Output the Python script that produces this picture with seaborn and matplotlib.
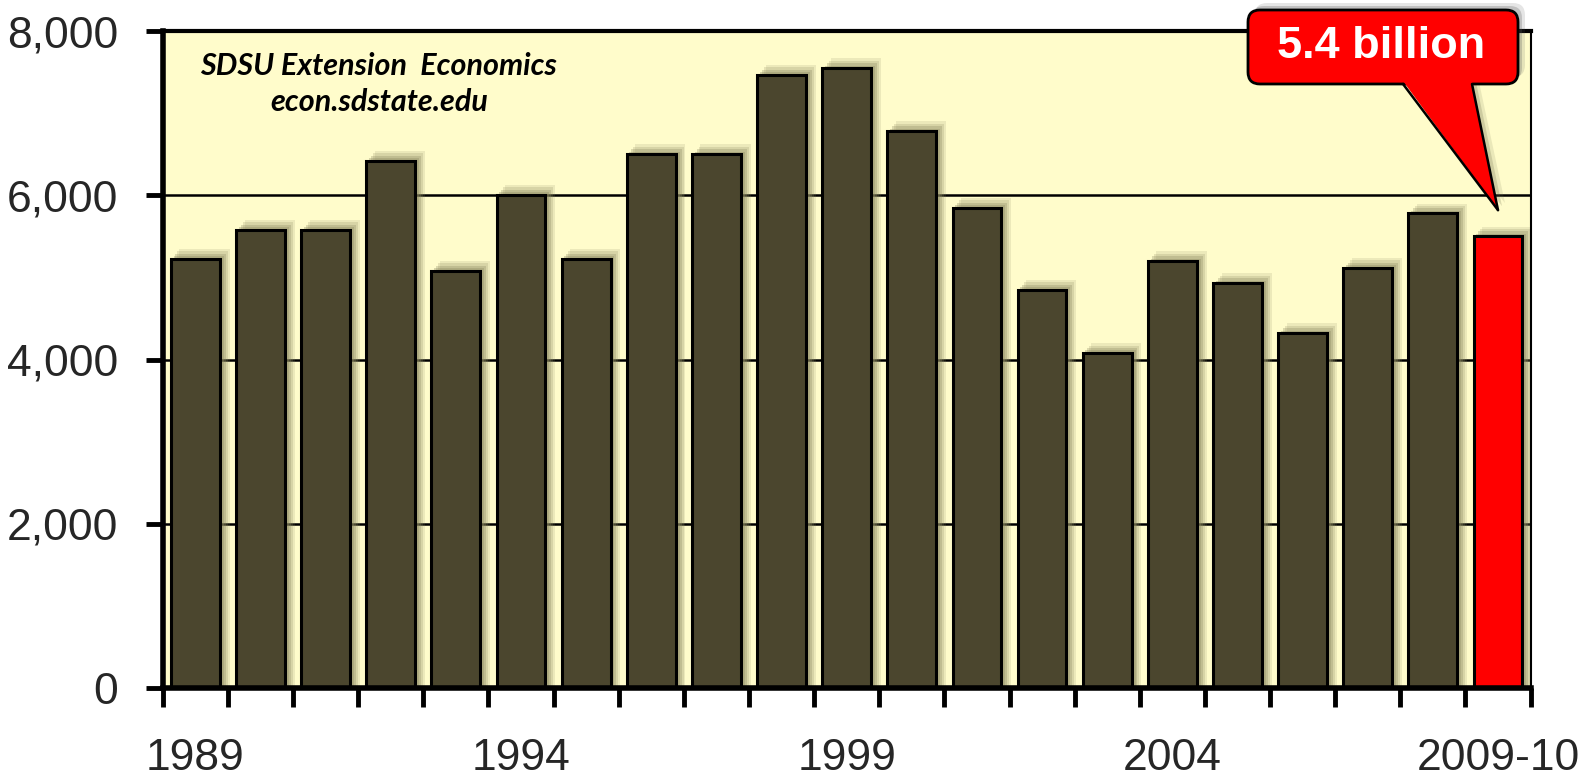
import numpy as np
import pandas as pd
import matplotlib
matplotlib.use("Agg")
import matplotlib.pyplot as plt
from matplotlib.patches import FancyBboxPatch, Polygon
from matplotlib.lines import Line2D
from matplotlib.transforms import IdentityTransform
import seaborn as sns

# data
years = ["1989", "1990", "1991", "1992", "1993", "1994", "1995", "1996", "1997", "1998",
         "1999", "2000", "2001", "2002", "2003", "2004", "2005", "2006", "2007", "2008",
         "2009-10"]
values = [5230, 5580, 5580, 6420, 5080, 6010, 5230, 6500, 6500, 7470,
          7550, 6780, 5850, 4850, 4080, 5200, 4930, 4320, 5120, 5780, 5500]
shown_labels = ["1989", "1994", "1999", "2004", "2009-10"]
callout_text = "5.4 billion"
credit_lines = ["SDSU Extension  Economics", "econ.sdstate.edu"]

bar_color = "#4b462e"
hi_color = "#ff0000"
bg_color = "#fffccb"
shadow_color = "#8e8a62"

sns.set_theme(style="white")
plt.rcParams["font.family"] = ["Liberation Sans", "DejaVu Sans"]

df = pd.DataFrame({"year": years, "value": values})
colors = [bar_color] * (len(years) - 1) + [hi_color]

W, H = 1596, 779
fig = plt.figure(figsize=(W / 100, H / 100), dpi=100)
ax = fig.add_axes([0.102, 0.117, 0.857, 0.843])
ax.set_facecolor(bg_color)

# soft shadow behind the bars
pos = np.arange(len(years))
for dx, dy, a in [(0.14, 120, 0.16), (0.11, 90, 0.22), (0.08, 60, 0.3), (0.05, 30, 0.35)]:
    ax.bar(pos + dx, np.array(values) + dy, width=0.77, color=shadow_color,
           alpha=a, linewidth=0, zorder=1)

sns.barplot(data=df, x="year", y="value", hue="year", palette=colors, legend=False,
            width=0.75, edgecolor="black", linewidth=2.2, saturation=1, ax=ax, zorder=2)

ax.set_xlim(-0.5, len(years) - 0.5)
ax.set_ylim(0, 8000)
ax.set_xlabel("")
ax.set_ylabel("")

# y axis
yt = [0, 2000, 4000, 6000, 8000]
ax.set_yticks(yt)
ax.set_yticklabels([f"{v:,}" for v in yt], fontsize=32)
for gy in yt[1:-1]:
    ax.axhline(gy, color="black", lw=1.8, zorder=0.5)

# x axis: ticks at bar boundaries, labels every 5 years
ax.set_xticks(np.arange(-0.5, len(years)), minor=True)
ax.set_xticks([years.index(y) for y in shown_labels])
ax.set_xticklabels(shown_labels, fontsize=32)
ax.tick_params(axis="x", which="major", length=0, pad=36)
ax.tick_params(axis="x", which="minor", length=14, width=3.5, color="black", direction="out",
               bottom=True)
ax.tick_params(axis="y", length=12, width=3.5, color="black", direction="out", pad=20, left=True)

for side, lw in [("left", 4), ("bottom", 4), ("top", 3), ("right", 1.5)]:
    ax.spines[side].set_visible(True)
    ax.spines[side].set_color("black")
    ax.spines[side].set_linewidth(lw)

# credit text
for line, yy in zip(credit_lines, [0.947, 0.892]):
    ax.text(0.158, yy, line, transform=ax.transAxes, ha="center", va="center",
            fontsize=22, fontweight="bold", fontstyle="italic", family="Lato", color="black")

# callout (pixel coordinates, origin bottom-left) pointing at the last bar
px = IdentityTransform()
bx0, bx1, by0, by1 = 1248, 1518, H - 84, H - 10
tip = ax.transData.transform((len(years) - 1, values[-1] + 320))
base_l, base_r = 1403, 1472

for off, a in [(7, 0.15), (4, 0.25)]:
    fig.add_artist(FancyBboxPatch((bx0 + off, by0 + off), bx1 - bx0, by1 - by0,
                                  boxstyle="round,pad=0,rounding_size=12", fc="#555555",
                                  ec="none", alpha=a, transform=px, zorder=4))
    fig.add_artist(Polygon([(base_l + off, by0 + 2), (base_r + off, by0 + 2),
                            (tip[0] + off, tip[1] + off)], closed=True, fc="#777755",
                           ec="none", alpha=a, transform=px, zorder=4))
fig.add_artist(FancyBboxPatch((bx0, by0), bx1 - bx0, by1 - by0,
                              boxstyle="round,pad=0,rounding_size=12", fc=hi_color,
                              ec="black", lw=2, transform=px, zorder=5))
fig.add_artist(Polygon([(base_l, by0 + 3), (base_r, by0 + 3), tuple(tip)], closed=True,
                       fc=hi_color, ec="none", transform=px, zorder=6))
for bx in [base_l, base_r]:
    fig.add_artist(Line2D([bx, tip[0]], [by0, tip[1]], color="black", lw=1.8,
                          transform=px, zorder=7))
fig.text((bx0 + bx1) / 2 / W - 0.001, (by0 + by1) / 2 / H, callout_text, ha="center",
         va="center", fontsize=32.5, fontweight="bold", color="white", zorder=8)

fig.savefig("out.png", dpi=100, facecolor="white")
